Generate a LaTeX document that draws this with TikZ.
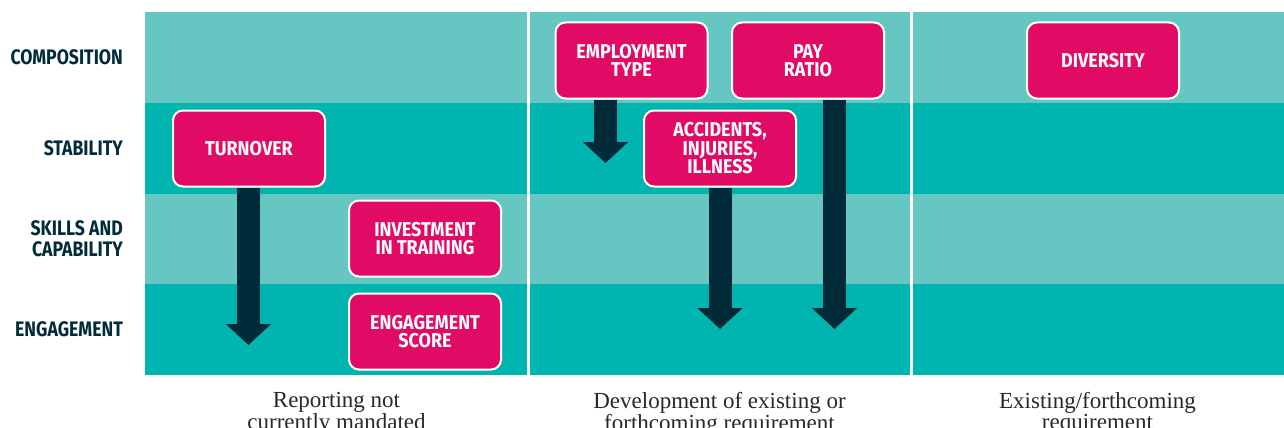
\documentclass[tikz,border=0pt]{standalone}
\usepackage{fontspec}
\setmainfont{Liberation Serif}
\newfontfamily\tagfont{Fira Sans}[FakeStretch=0.9]
\newfontfamily\rowfont{Fira Sans}[FakeStretch=0.84]
\usetikzlibrary{arrows.meta, positioning}
\definecolor{tealpale}{RGB}{102, 198, 194}
\definecolor{tealdeep}{RGB}{0, 181, 175}
\definecolor{hotpink}{RGB}{225, 10, 100}
\definecolor{navy}{RGB}{2, 43, 58}
\definecolor{inkgrey}{RGB}{40, 40, 40}
\pgfdeclarelayer{background}
\pgfsetlayers{background,main}

\begin{document}
\begin{tikzpicture}[x=1pt, y=-1pt,
    metric/.style={draw=white, line width=2pt, fill=hotpink, rounded corners=10pt,
        minimum width=152pt, minimum height=76pt, inner sep=0pt, align=center,
        text=white, font=\tagfont\bfseries\fontsize{20}{18.5}\selectfont},
    rowlabel/.style={anchor=east, align=right, inner sep=0pt, text=navy,
        font=\rowfont\bfseries\fontsize{21}{21}\selectfont},
    caption/.style={anchor=north, align=center, inner sep=0pt, text=inkgrey,
        font=\fontsize{23}{19}\selectfont},
    downarrow/.style={draw=navy, line width=23pt, -{Triangle[width=44pt, length=21pt]}}]
    \useasboundingbox (0,0) rectangle (1284,428);

    % row labels
    \node[rowlabel] (composition) at (123,57) {COMPOSITION};
    \node[rowlabel] (stability) at (123,148) {STABILITY};
    \node[rowlabel] (skills) at (123,239) {SKILLS AND\\CAPABILITY};
    \node[rowlabel] (engagement) at (123,329) {ENGAGEMENT};

    % metric boxes
    \node[metric] (turnover) at (249,148.5) {TURNOVER};
    \node[metric] (training) at (425,238.5) {INVESTMENT\\IN TRAINING};
    \node[metric, below=15pt of training] (score) {ENGAGEMENT\\SCORE};
    \node[metric] (emptype) at (631.5,60.5) {EMPLOYMENT\\TYPE};
    \node[metric] (payratio) at (808,60.5) {PAY\\RATIO};
    \node[metric] (accidents) at (720,148.5) {ACCIDENTS,\\INJURIES,\\ILLNESS};
    \node[metric] (diversity) at (1103,60.5) {DIVERSITY};

    % arrow tips
    \coordinate (turnoverTip) at (248.5,345);
    \coordinate (emptypeTip) at (605.5,163);
    \coordinate (accidentsTip) at (720,329);
    \coordinate (payratioTip) at (834.5,329);

    \begin{pgfonlayer}{background}
        % bands
        \fill[tealpale] (145,12) rectangle (1284,103);
        \fill[tealdeep] (145,103) rectangle (1284,194);
        \fill[tealpale] (145,194) rectangle (1284,284);
        \fill[tealdeep] (145,284) rectangle (1284,375);
        \draw[white, line width=2.5pt] (528.5,12) -- (528.5,375);
        \draw[white, line width=2.5pt] (911.5,12) -- (911.5,375);
        % arrows
        \draw[downarrow] (turnover.south -| turnoverTip) -- (turnoverTip);
        \draw[downarrow] (emptype.south -| emptypeTip) -- (emptypeTip);
        \draw[downarrow] (accidents.south -| accidentsTip) -- (accidentsTip);
        \draw[downarrow] (payratio.south -| payratioTip) -- (payratioTip);
    \end{pgfonlayer}

    % column captions
    \node[caption] (notMandated) at (336.5,392) {Reporting not\\currently mandated};
    \node[caption] (developing) at (719.5,392) {Development of existing or\\forthcoming requirement};
    \node[caption] (existing) at (1097.5,392) {Existing/forthcoming\\requirement};
\end{tikzpicture}
\end{document}
